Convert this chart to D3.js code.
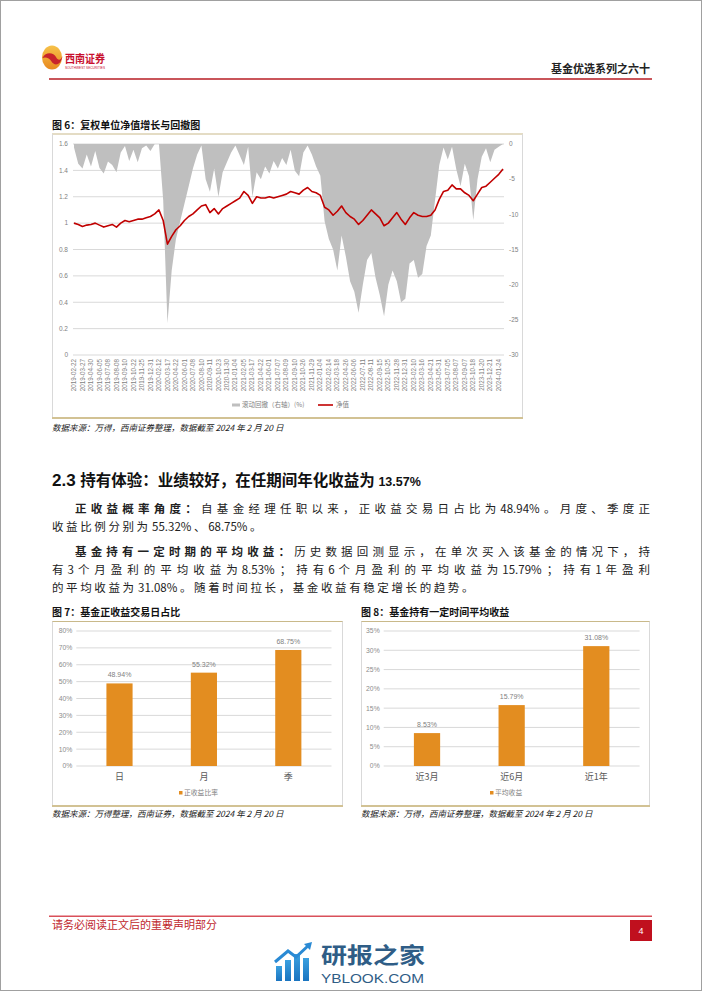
<!DOCTYPE html>
<html><head><meta charset="utf-8">
<script src="https://cdn.jsdelivr.net/npm/d3@7/dist/d3.min.js"></script>
<style>
body{margin:0;background:#fff;}
svg{display:block;font-family:"Liberation Sans","Noto Sans CJK SC",sans-serif;}
.cjk{font-family:"Noto Sans CJK SC",sans-serif;}
</style></head><body>
<svg id="page" width="702" height="991"></svg>
<script>
// ---------- DATA ----------
const navValues = [1.00,0.99,0.975,0.985,0.99,1.00,0.985,0.97,0.98,0.99,0.97,1.00,1.02,1.01,1.02,1.03,1.03,1.04,1.05,1.07,
  1.10,1.02,0.84,0.90,0.95,0.98,1.02,1.05,1.07,1.10,1.13,1.14,1.08,1.11,1.07,1.11,1.13,1.15,1.17,1.19,
  1.24,1.21,1.15,1.20,1.19,1.19,1.20,1.19,1.20,1.21,1.22,1.24,1.23,1.22,1.25,1.27,1.24,1.23,1.21,1.12,
  1.10,1.06,1.09,1.13,1.08,1.05,1.03,0.99,1.02,1.06,1.10,1.07,1.04,0.98,1.00,1.04,1.08,1.03,0.99,1.04,
  1.08,1.06,1.05,1.05,1.06,1.10,1.18,1.24,1.25,1.29,1.26,1.26,1.23,1.21,1.17,1.22,1.27,1.28,1.31,1.34,
  1.37,1.41];
const drawdownValues = [-0.5,-2.8,-3.5,-1.5,-3.2,-1.0,-3.4,-4.2,-2.5,-3.0,-4.0,-1.2,-0.3,-2.4,-0.8,-2.6,-0.6,-0.2,-1.0,0,
  0,-8,-25.5,-18,-13.5,-11,-8.5,-6,-3.5,-1.5,-0.2,-5.0,-6.8,-3.5,-7.5,-4.0,-2.6,-1.2,-0.2,-1.6,
  -3.0,-0.4,-7.5,-4.0,-5.0,-3.2,-4.2,-2.4,-3.5,-2.0,-3.0,-0.8,-3.8,-4.6,-1.2,-0.2,-1.5,-3.2,-4.5,-11,
  -13.5,-15,-18,-13,-16,-19.5,-21,-24,-20,-16.5,-15.5,-19,-21.5,-24.5,-20,-18,-19.5,-22.5,-22,-17,
  -16.5,-19,-18.5,-14.5,-13,-8,-3,-0.5,-2.2,-0.4,-3.6,-6,-2.8,-4.6,-10.8,-5.0,-1.8,-0.6,-2.6,-0.8,
  -0.4,0];
const dateLabels = ["2019-02-22","2019-03-27","2019-04-30","2019-06-05","2019-07-08","2019-08-08","2019-09-10","2019-10-22","2019-11-25","2019-12-31",
  "2020-02-12","2020-03-17","2020-04-22","2020-06-01","2020-07-08","2020-08-10","2020-09-11","2020-10-23","2020-11-30","2021-01-04",
  "2021-02-05","2021-03-17","2021-04-22","2021-06-01","2021-07-07","2021-08-09","2021-09-10","2021-10-26","2021-11-29","2022-01-04",
  "2022-02-14","2022-03-18","2022-04-26","2022-06-06","2022-07-11","2022-08-11","2022-09-15","2022-10-25","2022-11-28","2022-12-31",
  "2023-02-10","2023-03-16","2023-04-21","2023-05-31","2023-07-05","2023-08-07","2023-09-07","2023-10-18","2023-11-20","2023-12-21",
  "2024-01-24"];
const leftTicks = [1.6,1.4,1.2,1,0.8,0.6,0.4,0.2,0];
const rightTicks = [0,-5,-10,-15,-20,-25,-30];
const posCategories = ["日","月","季"];
const posValues = [0.4894,0.5532,0.6875];
const posTicks = [0,0.1,0.2,0.3,0.4,0.5,0.6,0.7,0.8];
const holdCategories = ["近3月","近6月","近1年"];
const holdValues = [0.0853,0.1579,0.3108];
const holdTicks = [0,0.05,0.10,0.15,0.20,0.25,0.30,0.35];

// ---------- PAGE ----------
const svg = d3.select("#page");
svg.append("rect").attr("x",0.5).attr("y",0.5).attr("width",701).attr("height",990)
  .attr("fill","#fff").attr("stroke","#a0a0a0");
const defs = svg.append("defs");

// header logo
const lg = defs.append("linearGradient").attr("id","logoG").attr("x1",0).attr("y1",0).attr("x2",0).attr("y2",1);
lg.append("stop").attr("offset","0%").attr("stop-color","#f6c24a");
lg.append("stop").attr("offset","100%").attr("stop-color","#e8891f");
svg.append("ellipse").attr("cx",52).attr("cy",57.5).attr("rx",10).attr("ry",12).attr("fill","url(#logoG)");
svg.append("path").attr("d","M42.5,58 C46,51 54,53 56,57 C58,61 61,60.5 62.5,56 C61,66 54,66 51.5,61.5 C49.5,58 45.5,56.5 42.5,58 Z")
  .attr("fill","#c8242b");
svg.append("text").attr("class","cjk").attr("x",65).attr("y",63).attr("font-size",11).attr("font-weight","bold")
  .attr("fill","#c8102e").attr("textLength",40).attr("lengthAdjust","spacingAndGlyphs").text("西南证券");
svg.append("text").attr("x",65).attr("y",68.5).attr("font-size",3.6).attr("fill","#c8102e")
  .attr("textLength",40).attr("lengthAdjust","spacingAndGlyphs").text("SOUTHWEST SECURITIES");
svg.append("text").attr("class","cjk").attr("x",650).attr("y",73).attr("text-anchor","end")
  .attr("font-size",11).attr("font-weight","bold").attr("fill","#222").text("基金优选系列之六十");
svg.append("rect").attr("x",49).attr("y",78).attr("width",603).attr("height",2).attr("fill","#c9555a");

// ---------- CHART FRAME ----------
function chartFrame(x0,x1,yTitle,yTop,yBottom,title){
  svg.append("text").attr("class","cjk").attr("x",x0).attr("y",yTitle).attr("font-size",10)
    .attr("font-weight","bold").attr("fill","#111").text(title);
  svg.append("line").attr("x1",x0).attr("x2",x1).attr("y1",yTop).attr("y2",yTop)
    .attr("stroke","#c9b98a").attr("stroke-width",1);
  svg.append("line").attr("x1",x0+0.5).attr("x2",x0+0.5).attr("y1",yTop).attr("y2",yBottom).attr("stroke","#d9d9d9");
  svg.append("line").attr("x1",x1-0.5).attr("x2",x1-0.5).attr("y1",yTop).attr("y2",yBottom).attr("stroke","#d9d9d9");
  svg.append("line").attr("x1",x0).attr("x2",x1).attr("y1",yBottom).attr("y2",yBottom)
    .attr("stroke","#d2c294").attr("stroke-width",2);
}

// ---------- CHART 6 ----------
chartFrame(52,523,129,134,418,"图 6：复权单位净值增长与回撤图");
const x6 = d3.scaleLinear().domain([0,navValues.length-1]).range([74,503]);
const yL = d3.scaleLinear().domain([0,1.6]).range([355,144]);
const yR = d3.scaleLinear().domain([-30,0]).range([355,144]);
const g6 = svg.append("g");
g6.selectAll("line.grid").data(leftTicks).join("line")
  .attr("x1",73).attr("x2",504).attr("y1",d=>yL(d)).attr("y2",d=>yL(d))
  .attr("stroke","#d9d9d9").attr("stroke-width",1);
g6.append("path").datum(drawdownValues)
  .attr("d",d3.area().x((d,i)=>x6(i)).y0(yR(0)).y1(d=>yR(d)))
  .attr("fill","#bfbfbf");
g6.append("path").datum(navValues)
  .attr("d",d3.line().x((d,i)=>x6(i)).y(d=>yL(d)))
  .attr("fill","none").attr("stroke","#c00000").attr("stroke-width",1.6).attr("stroke-linejoin","round");
g6.selectAll("text.yl").data(leftTicks).join("text")
  .attr("x",68).attr("y",d=>yL(d)).attr("dy","0.35em").attr("text-anchor","end")
  .attr("font-size",6.5).attr("fill","#7f7f7f").text(d=>String(d));
g6.selectAll("text.yr").data(rightTicks).join("text")
  .attr("x",509).attr("y",d=>yR(d)).attr("dy","0.35em").attr("text-anchor","start")
  .attr("font-size",6.5).attr("fill","#7f7f7f").text(d=>String(d));
g6.selectAll("text.xl").data(dateLabels).join("text")
  .attr("transform",(d,i)=>`translate(${x6(i*2)},359) rotate(-90)`)
  .attr("text-anchor","end").attr("dy","0.33em")
  .attr("font-size",6.3).attr("fill","#7f7f7f").text(d=>d);
g6.append("line").attr("x1",232).attr("x2",240).attr("y1",405).attr("y2",405).attr("stroke","#bfbfbf").attr("stroke-width",3);
g6.append("text").attr("class","cjk").attr("x",242).attr("y",405).attr("dy","0.35em").attr("font-size",6.5)
  .attr("fill","#7f7f7f").text("滚动回撤（右轴）(%)");
g6.append("line").attr("x1",318).attr("x2",333).attr("y1",405).attr("y2",405).attr("stroke","#c00000").attr("stroke-width",1.6);
g6.append("text").attr("class","cjk").attr("x",336).attr("y",405).attr("dy","0.35em").attr("font-size",6.5)
  .attr("fill","#7f7f7f").text("净值");

function sourceLine(x,y,txt){
  svg.append("text").attr("class","cjk").attr("x",x).attr("y",y).attr("font-size",8.5)
    .attr("font-style","italic").attr("fill","#222").text(txt);
}
sourceLine(52,431,"数据来源：万得，西南证券整理，数据截至 2024 年 2 月 20 日");

// ---------- SECTION TEXT ----------
const h = svg.append("text").attr("class","cjk").attr("x",52).attr("y",486).attr("font-weight","bold").attr("fill","#111");
h.append("tspan").attr("font-family","Liberation Sans").attr("font-size",17).text("2.3 ");
h.append("tspan").attr("font-size",15.5).text("持有体验：业绩较好，在任期间年化收益为 ");
h.append("tspan").attr("font-family","Liberation Sans").attr("font-size",12.5).text("13.57%");

function para(x,y,parts,width){
  const t = svg.append("text").attr("class","cjk").attr("y",y).attr("font-size",11.5).attr("fill","#222");
  const toks=[];
  parts.forEach(p=>{
    const re=/[\u3000-\u303f\uff00-\uffef\u4e00-\u9fff]|[^\u3000-\u303f\uff00-\uffef\u4e00-\u9fff ]+| +/g;
    let m; while((m=re.exec(p[0]))!==null){ toks.push({s:m[0],b:p[1],sp:m[0].trim()===""}); }
  });
  const spans = toks.map(k=>{
    const s=t.append("tspan").text(k.sp?"\u00a0":k.s);
    if(k.b) s.attr("font-weight","bold");
    return s;
  });
  const SPACE=4;
  const ws = spans.map((s,i)=>toks[i].sp?SPACE:s.node().getComputedTextLength());
  let nGaps=0;
  for(let i=0;i<toks.length-1;i++){ if(!toks[i].sp && !toks[i+1].sp) nGaps++; }
  const total = d3.sum(ws);
  const gap = width ? (width-total)/nGaps : 2.6;
  let cx=x;
  spans.forEach((s,i)=>{
    s.attr("x",cx);
    cx+=ws[i];
    if(i<toks.length-1 && !toks[i].sp && !toks[i+1].sp) cx+=gap;
  });
}
para(75,513,[["正收益概率角度：",1],["自基金经理任职以来，正收益交易日占比为 48.94%。月度、季度正",0]],575);
para(52,531,[["收益比例分别为 55.32%、68.75%。",0]]);
para(75,556,[["基金持有一定时期的平均收益：",1],["历史数据回测显示，在单次买入该基金的情况下，持",0]],575);
para(52,574,[["有 3 个月盈利的平均收益为 8.53%；持有 6 个月盈利的平均收益为 15.79%；持有 1 年盈利",0]],598);
para(52,592,[["的平均收益为 31.08%。随着时间拉长，基金收益有稳定增长的趋势。",0]]);

// ---------- BAR CHARTS ----------
function barChart(o){
  chartFrame(o.x0,o.x1,616,621.5,806,o.title);
  const y = d3.scaleLinear().domain([0,o.max]).range([766,631]);
  const x = d3.scaleBand().domain(o.cats).range([o.r0,o.r1]).paddingInner(0.69).paddingOuter(0.345);
  const g = svg.append("g");
  g.selectAll("line.g").data(o.ticks).join("line")
    .attr("x1",o.r0-1).attr("x2",o.r1+1).attr("y1",d=>y(d)).attr("y2",d=>y(d))
    .attr("stroke","#d9d9d9");
  g.selectAll("text.t").data(o.ticks).join("text")
    .attr("x",o.r0-5).attr("y",d=>y(d)).attr("dy","0.35em").attr("text-anchor","end")
    .attr("font-size",6.8).attr("fill","#8c8c8c").text(d=>d3.format(".0%")(d));
  g.selectAll("rect.b").data(o.vals).join("rect")
    .attr("x",(d,i)=>x(o.cats[i])).attr("width",x.bandwidth())
    .attr("y",d=>y(d)).attr("height",d=>y(0)-y(d)).attr("fill","#e38d20");
  g.selectAll("text.v").data(o.vals).join("text")
    .attr("x",(d,i)=>x(o.cats[i])+x.bandwidth()/2).attr("y",d=>y(d)-6)
    .attr("text-anchor","middle").attr("font-size",7).attr("fill","#7f7f7f").text(d=>d3.format(".2%")(d));
  g.selectAll("text.c").data(o.cats).join("text").attr("class","cjk")
    .attr("x",d=>x(d)+x.bandwidth()/2).attr("y",777).attr("dy","0.35em")
    .attr("text-anchor","middle").attr("font-size",9).attr("fill","#595959").text(d=>d);
  g.append("rect").attr("x",o.lx).attr("y",791).attr("width",3.5).attr("height",3.5).attr("fill","#e38d20");
  g.append("text").attr("class","cjk").attr("x",o.lx+5).attr("y",793).attr("dy","0.35em")
    .attr("font-size",6.8).attr("fill","#7f7f7f").text(o.legend);
}
barChart({x0:52,x1:343,title:"图 7：基金正收益交易日占比",cats:posCategories,vals:posValues,ticks:posTicks,max:0.8,
  r0:77.3,r1:330.5,lx:179,legend:"正收益比率"});
barChart({x0:361,x1:650,title:"图 8：基金持有一定时间平均收益",cats:holdCategories,vals:holdValues,ticks:holdTicks,max:0.35,
  r0:384.7,r1:638.6,lx:490,legend:"平均收益"});
sourceLine(52,817,"数据来源：万得整理，西南证券，数据截至 2024 年 2 月 20 日");
sourceLine(361,817,"数据来源：万得，西南证券整理，数据截至 2024 年 2 月 20 日");

// ---------- FOOTER ----------
svg.append("rect").attr("x",49).attr("y",915.5).attr("width",603).attr("height",1.5).attr("fill","#d9505a");
svg.append("text").attr("class","cjk").attr("x",52).attr("y",929).attr("font-size",11)
  .attr("fill","#c0282d").text("请务必阅读正文后的重要声明部分");
svg.append("rect").attr("x",630).attr("y",920).attr("width",22).attr("height",21).attr("fill","#c0101e");
svg.append("text").attr("x",641).attr("y",931).attr("dy","0.35em").attr("text-anchor","middle")
  .attr("font-size",9).attr("fill","#fff").text("4");

// watermark
const wg = defs.append("linearGradient").attr("id","wmG").attr("x1",0).attr("y1",0).attr("x2",0).attr("y2",1);
wg.append("stop").attr("offset","0%").attr("stop-color","#3aa0e0");
wg.append("stop").attr("offset","100%").attr("stop-color","#1a74c0");
const wm = svg.append("g");
[[276,966,6,15],[285,960,6,21],[294,954,6,27],[303,958,6,23]].forEach(b=>{
  wm.append("rect").attr("x",b[0]).attr("y",b[1]).attr("width",b[2]).attr("height",b[3]).attr("fill","url(#wmG)");
});
wm.append("path").attr("d","M275,962 L288,951 L296,957 L309,945").attr("fill","none")
  .attr("stroke","#2a8ad4").attr("stroke-width",3);
wm.append("path").attr("d","M304,944 L312,942 L310,950 Z").attr("fill","#2a8ad4");
wm.append("text").attr("class","cjk").attr("x",321).attr("y",963).attr("font-size",22).attr("font-weight","bold")
  .attr("fill","#2f5d86").attr("textLength",104).attr("lengthAdjust","spacingAndGlyphs").text("研报之家");
wm.append("text").attr("x",321).attr("y",983).attr("font-size",12).attr("fill","#2f5d86")
  .attr("textLength",103).attr("lengthAdjust","spacingAndGlyphs").text("YBLOOK.COM");
</script>
</body></html>
